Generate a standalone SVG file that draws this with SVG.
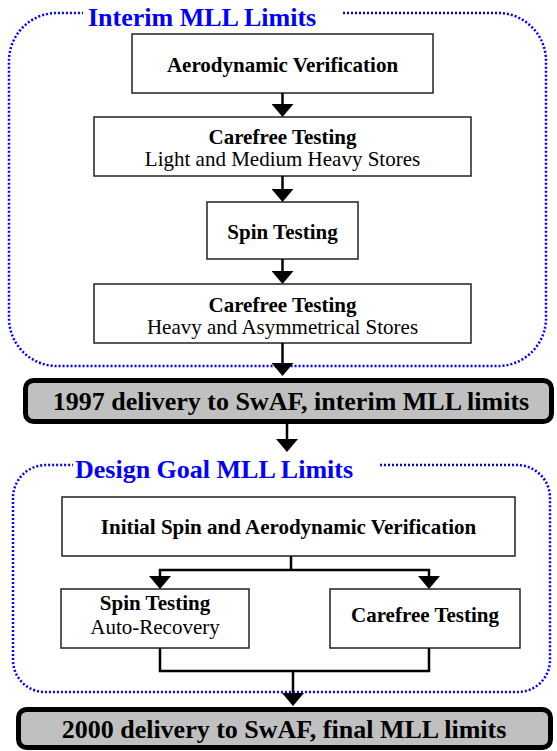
<svg xmlns="http://www.w3.org/2000/svg" width="557" height="751" viewBox="0 0 557 751">
  <style>
    .bg { fill: #ffffff; }
    .box { fill: #ffffff; stroke: #222222; stroke-width: 1.5; }
    .milestone { fill: #c0c0c0; stroke: #000000; stroke-width: 5; }
    .phase { fill: none; stroke: #0000ff; stroke-width: 2.5; stroke-dasharray: 2 2; }
    .phase-title { font-family: "Liberation Serif", "Times New Roman", serif; font-weight: bold; font-size: 26px; fill: #0000ff; }
    .t-bold { font-family: "Liberation Serif", "Times New Roman", serif; font-weight: bold; font-size: 21px; fill: #000000; text-anchor: middle; }
    .t-reg { font-family: "Liberation Serif", "Times New Roman", serif; font-size: 21px; fill: #000000; text-anchor: middle; }
    .t-mile { font-family: "Liberation Serif", "Times New Roman", serif; font-weight: bold; font-size: 26px; fill: #000000; text-anchor: middle; }
    .conn { fill: none; stroke: #000000; stroke-width: 2.5; }
  </style>
  <defs>
    <marker id="arrow" viewBox="0 0 13 22" refX="4" refY="11" markerWidth="13" markerHeight="22" markerUnits="userSpaceOnUse" orient="auto">
      <path d="M0,0 L13,11 L0,22 z" fill="#000000"/>
    </marker>
  </defs>

  <rect class="bg" x="0" y="0" width="557" height="751"/>

  <!-- Phase frames (dotted, open where the title sits) -->
  <g id="phase-interim">
    <path class="phase" d="M343,13 H498 A48,48 0 0 1 546,61 V318 A48,48 0 0 1 498,366 H57 A48,48 0 0 1 9,318 V61 A48,48 0 0 1 57,13 H83"/>
    <text class="phase-title" x="88" y="26">Interim MLL Limits</text>
  </g>
  <g id="phase-design-goal">
    <path class="phase" d="M380,465 H517 A33,33 0 0 1 550,498 V660 A32,32 0 0 1 518,692 H45 A32,32 0 0 1 13,660 V498 A33,33 0 0 1 46,465 H73"/>
    <text class="phase-title" x="75" y="478">Design Goal MLL Limits</text>
  </g>

  <!-- Interim phase nodes -->
  <g id="aero-verification">
    <rect class="box" x="132" y="34" width="301" height="59"/>
    <text class="t-bold" x="282.5" y="72">Aerodynamic Verification</text>
  </g>
  <g id="carefree-light">
    <rect class="box" x="94" y="117" width="377" height="59"/>
    <text class="t-bold" x="282.5" y="144">Carefree Testing</text>
    <text class="t-reg" x="282.5" y="166">Light and Medium Heavy Stores</text>
  </g>
  <g id="spin-testing">
    <rect class="box" x="207" y="202" width="151" height="57"/>
    <text class="t-bold" x="282.5" y="239">Spin Testing</text>
  </g>
  <g id="carefree-heavy">
    <rect class="box" x="94" y="284" width="377" height="59"/>
    <text class="t-bold" x="282.5" y="312">Carefree Testing</text>
    <text class="t-reg" x="282.5" y="334">Heavy and Asymmetrical Stores</text>
  </g>

  <!-- Delivery milestones -->
  <g id="delivery-1997">
    <rect class="milestone" x="25.5" y="380.5" width="526" height="41" rx="8"/>
    <text class="t-mile" x="291" y="410">1997 delivery to SwAF, interim MLL limits</text>
  </g>

  <!-- Design goal phase nodes -->
  <g id="initial-spin-aero">
    <rect class="box" x="62" y="497" width="453" height="59"/>
    <text class="t-bold" x="288.5" y="534">Initial Spin and Aerodynamic Verification</text>
  </g>
  <g id="spin-auto-recovery">
    <rect class="box" x="61" y="589" width="188" height="59"/>
    <text class="t-bold" x="155" y="610">Spin Testing</text>
    <text class="t-reg" x="155" y="634">Auto-Recovery</text>
  </g>
  <g id="carefree-final">
    <rect class="box" x="330" y="589" width="190" height="59"/>
    <text class="t-bold" x="425" y="622">Carefree Testing</text>
  </g>

  <g id="delivery-2000">
    <rect class="milestone" x="18.5" y="709.5" width="532" height="38" rx="8"/>
    <text class="t-mile" x="284" y="738">2000 delivery to SwAF, final MLL limits</text>
  </g>

  <!-- Connectors -->
  <g id="connectors">
    <path class="conn" d="M282.5,93 V108" marker-end="url(#arrow)"/>
    <path class="conn" d="M282.5,176 V193" marker-end="url(#arrow)"/>
    <path class="conn" d="M282.5,259 V275" marker-end="url(#arrow)"/>
    <path class="conn" d="M282.5,343 V367" marker-end="url(#arrow)"/>
    <path class="conn" d="M287,424 V443" marker-end="url(#arrow)"/>
    <!-- split after initial verification -->
    <path class="conn" d="M291,556 V570"/>
    <path class="conn" d="M159,570 H430"/>
    <path class="conn" d="M160,569 V580" marker-end="url(#arrow)"/>
    <path class="conn" d="M429,569 V580" marker-end="url(#arrow)"/>
    <!-- join before final delivery -->
    <path class="conn" d="M160,648 V671 H429 V648"/>
    <path class="conn" d="M293,671 V697" marker-end="url(#arrow)"/>
  </g>
</svg>
